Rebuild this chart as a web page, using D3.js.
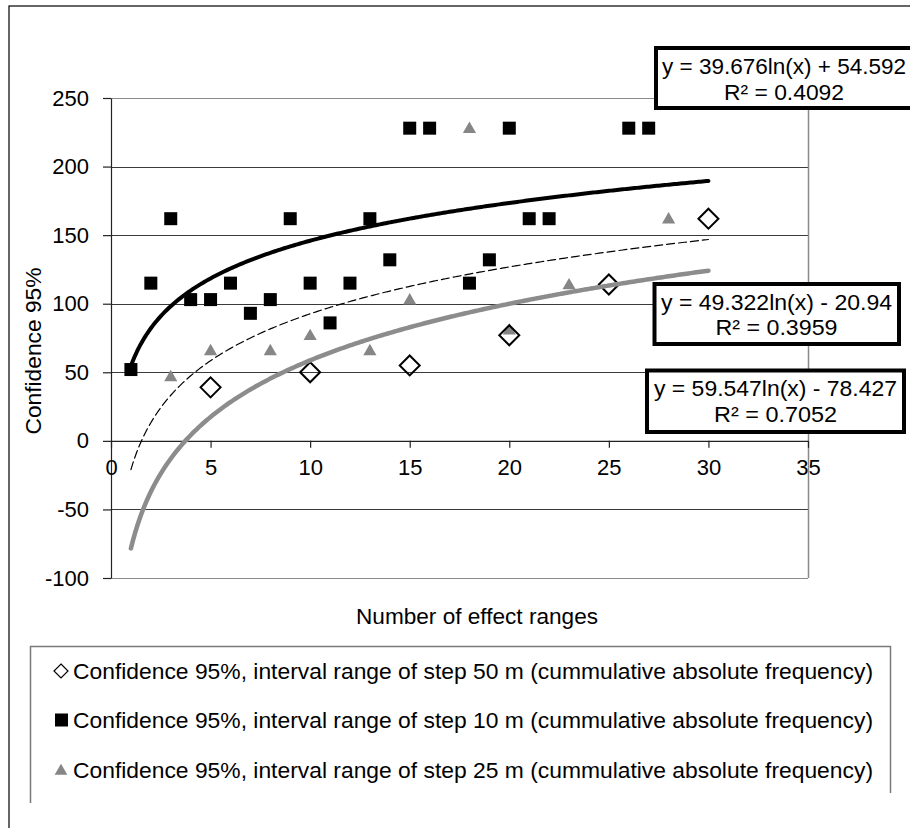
<!DOCTYPE html>
<html>
<head>
<meta charset="utf-8">
<script src="https://cdn.jsdelivr.net/npm/d3@7"></script>
<style>
  html, body { margin: 0; padding: 0; background: #fff; }
  svg text { font-family: "Liberation Sans", Arial, sans-serif; fill: #000; }
</style>
</head>
<body>
<svg id="chart" width="910" height="828"></svg>
<script>
// ---- data ----
const xTicks = [0, 5, 10, 15, 20, 25, 30, 35];
const yTicks = [-100, -50, 0, 50, 100, 150, 200, 250];

// step 50 m (diamonds)
const step50X = [5, 10, 15, 20, 25, 30];
const step50Y = [39, 50, 55, 77, 114, 162];

// step 10 m (squares)
const step10X = [1, 2, 3, 4, 5, 6, 7, 8, 9, 10, 11, 12, 13, 14, 15, 16, 18, 19, 20, 21, 22, 26, 27];
const step10Y = [52, 115, 162, 103, 103, 115, 93, 103, 162, 115, 86, 115, 162, 132, 228, 228, 115, 132, 228, 162, 162, 228, 228];

// step 25 m (triangles)
const step25X = [3, 5, 8, 10, 13, 15, 18, 20, 23, 28];
const step25Y = [47, 66, 66, 77, 66, 103, 228, 81, 114, 162];

// logarithmic trendlines, as printed on the chart: y = a ln(x) + b
const trendNames = ["step10", "step25", "step50"];
const trendA = [39.676, 49.322, 59.547];
const trendB = [54.592, -20.94, -78.427];
const trendLabel1 = ["y = 39.676ln(x) + 54.592", "y = 49.322ln(x) - 20.94", "y = 59.547ln(x) - 78.427"];
const trendLabel2 = ["R² = 0.4092", "R² = 0.3959", "R² = 0.7052"];
const trendXStart = 1, trendXEnd = 30;

const legendLabels = [
  "Confidence 95%, interval range of step 50 m (cummulative absolute frequency)",
  "Confidence 95%, interval range of step 10 m (cummulative absolute frequency)",
  "Confidence 95%, interval range of step 25 m (cummulative absolute frequency)"
];

// ---- drawing ----
const svg = d3.select("#chart");
const FONT = 22;
const FAM = '"Liberation Sans", Arial, sans-serif';

// outer chart border (cropped at right/bottom in the reference)
svg.append("rect").attr("x", 9).attr("y", 6).attr("width", 1000).attr("height", 1000)
  .attr("fill", "#fff").attr("stroke", "#000").attr("stroke-width", 1.2);

const x = d3.scaleLinear().domain([0, 35]).range([111, 808]);
const y = d3.scaleLinear().domain([-100, 250]).range([578, 98]);

// gridlines
svg.append("g").selectAll("line").data(yTicks).join("line")
  .attr("x1", x(0)).attr("x2", x(35))
  .attr("y1", d => Math.round(y(d)) + 0.5).attr("y2", d => Math.round(y(d)) + 0.5)
  .attr("stroke", d => (d === 250 || d === -100) ? "#8a8a8a" : "#3a3a3a")
  .attr("stroke-width", 1.2);

// right border of plot area
svg.append("line").attr("x1", x(35) + 0.5).attr("x2", x(35) + 0.5)
  .attr("y1", y(250)).attr("y2", y(-100)).attr("stroke", "#8a8a8a").attr("stroke-width", 1.5);

// y axis
const yAxis = d3.axisLeft(y).tickValues(yTicks).tickFormat(d => String(d))
  .tickSize(8).tickSizeOuter(0).tickPadding(14);
const gy = svg.append("g").attr("transform", `translate(${x(0)},0)`).call(yAxis);
gy.selectAll("path, line").attr("stroke", "#222").attr("stroke-width", 1.2);
gy.selectAll("text").style("font-size", FONT + "px").style("font-family", FAM).attr("fill", "#000");

// x axis at y = 0
const xAxis = d3.axisBottom(x).tickValues(xTicks).tickFormat(d => String(d))
  .tickSize(7).tickSizeOuter(0).tickPadding(12);
const gx = svg.append("g").attr("transform", `translate(0,${y(0)})`).call(xAxis);
gx.selectAll("path, line").attr("stroke", "#222").attr("stroke-width", 1.2);
gx.selectAll("text").style("font-size", FONT + "px").style("font-family", FAM).attr("fill", "#000");

// axis titles
svg.append("text").attr("transform", "translate(41,351) rotate(-90)")
  .attr("text-anchor", "middle").style("font-size", FONT + "px")
  .attr("textLength", 167).attr("lengthAdjust", "spacingAndGlyphs")
  .text("Confidence 95%");
svg.append("text").attr("x", 477).attr("y", 624)
  .attr("text-anchor", "middle").style("font-size", FONT + "px")
  .attr("textLength", 242).attr("lengthAdjust", "spacingAndGlyphs")
  .text("Number of effect ranges");

// markers
const sq = 13;
svg.append("g").selectAll("path").data(step25X.map((d, i) => [d, step25Y[i]])).join("path")
  .attr("d", d3.symbol(d3.symbolTriangle, 75))
  .attr("transform", d => `translate(${x(d[0])},${y(d[1]) + 1})`)
  .attr("fill", "#868686");

svg.append("g").selectAll("rect").data(step10X.map((d, i) => [d, step10Y[i]])).join("rect")
  .attr("x", d => x(d[0]) - sq / 2).attr("y", d => y(d[1]) - sq / 2)
  .attr("width", sq).attr("height", sq).attr("fill", "#000");

svg.append("g").selectAll("path").data(step50X.map((d, i) => [d, step50Y[i]])).join("path")
  .attr("d", "M0,-10L10,0L0,10L-10,0Z")
  .attr("transform", d => `translate(${x(d[0])},${y(d[1])})`)
  .attr("fill", "none").attr("stroke", "#000").attr("stroke-width", 2);

// trendlines
const trendStyle = [
  { stroke: "#000", width: 4, dash: null },
  { stroke: "#000", width: 1.2, dash: "8,4" },
  { stroke: "#8c8c8c", width: 4.5, dash: null }
];
const xs = d3.range(trendXStart, trendXEnd + 0.001, 0.1);
const line = d3.line().x(d => x(d[0])).y(d => y(d[1])).curve(d3.curveLinear);
trendNames.forEach((n, i) => {
  const pts = xs.map(v => [v, trendA[i] * Math.log(v) + trendB[i]]);
  svg.append("path").attr("d", line(pts)).attr("fill", "none")
    .attr("stroke", trendStyle[i].stroke).attr("stroke-width", trendStyle[i].width)
    .attr("stroke-dasharray", trendStyle[i].dash)
    .attr("stroke-linecap", "round").attr("stroke-linejoin", "round");
});

// trendline label boxes
const boxes = [
  { x0: 656, x1: 916, y0: 48, y1: 108, cx: 784, t1: 66, t2: 92.5, w1: 244, w2: 120 },
  { x0: 654.5, x1: 899, y0: 284, y1: 344, cx: 776.5, t1: 302, t2: 327.5, w1: 231, w2: 122 },
  { x0: 647, x1: 904, y0: 370.5, y1: 432, cx: 775.5, t1: 388, t2: 414.5, w1: 243, w2: 123 }
];
boxes.forEach((b, i) => {
  svg.append("rect").attr("x", b.x0).attr("y", b.y0)
    .attr("width", b.x1 - b.x0).attr("height", b.y1 - b.y0)
    .attr("fill", "#fff").attr("stroke", "#000").attr("stroke-width", 4);
  svg.append("text").attr("x", b.cx).attr("y", b.t1).attr("dy", "0.35em")
    .attr("text-anchor", "middle").style("font-size", FONT + "px")
    .attr("textLength", b.w1).attr("lengthAdjust", "spacingAndGlyphs")
    .text(trendLabel1[i]);
  svg.append("text").attr("x", b.cx).attr("y", b.t2).attr("dy", "0.35em")
    .attr("text-anchor", "middle").style("font-size", FONT + "px")
    .attr("textLength", b.w2).attr("lengthAdjust", "spacingAndGlyphs")
    .text(trendLabel2[i]);
});

// legend (box open at the bottom, as in the reference)
svg.append("path")
  .attr("d", "M30.5,803 L30.5,646.5 L890.5,646.5 L890.5,793")
  .attr("fill", "none").attr("stroke", "#7a7a7a").attr("stroke-width", 1.5);
const legY = [671, 720, 770];
const lg = svg.append("g");
// diamond
lg.append("path").attr("d", "M0,-7L7,0L0,7L-7,0Z")
  .attr("transform", `translate(61,${legY[0]})`)
  .attr("fill", "none").attr("stroke", "#000").attr("stroke-width", 1.2);
// square
lg.append("rect").attr("x", 55).attr("y", legY[1] - 6.5).attr("width", 13).attr("height", 13).attr("fill", "#000");
// triangle
lg.append("path").attr("d", d3.symbol(d3.symbolTriangle, 70))
  .attr("transform", `translate(61,${legY[2] + 1})`).attr("fill", "#868686");
legendLabels.forEach((t, i) => {
  lg.append("text").attr("x", 73).attr("y", legY[i]).attr("dy", "0.35em")
    .style("font-size", FONT + "px")
    .attr("textLength", 800).attr("lengthAdjust", "spacingAndGlyphs")
    .text(t);
});
</script>
</body>
</html>
